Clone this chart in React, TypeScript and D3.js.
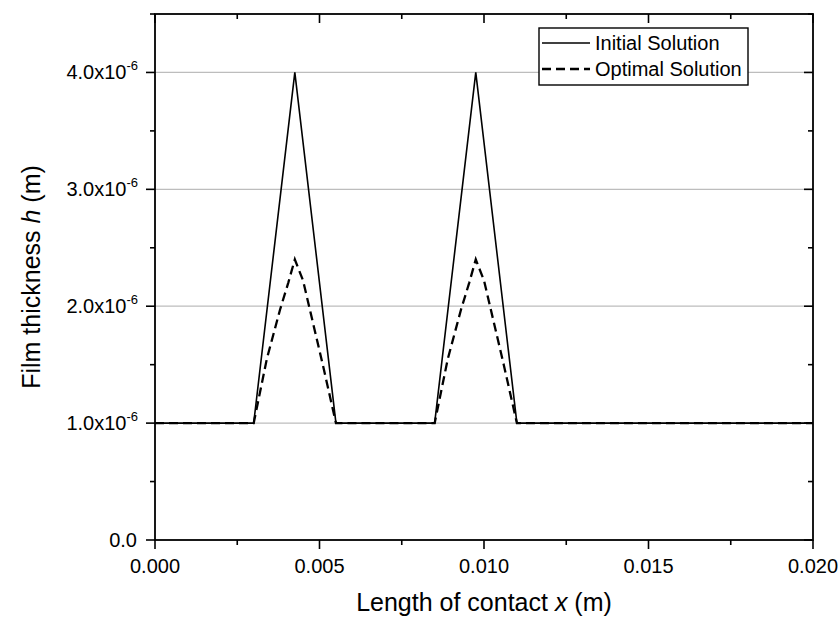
import React from "react";
import * as d3 from "d3";

const xInitial = [0, 0.003, 0.00425, 0.0055, 0.0085, 0.00975, 0.011, 0.02];
const hInitial = [1e-6, 1e-6, 4e-6, 1e-6, 1e-6, 4e-6, 1e-6, 1e-6];

const xOptimal = [0, 0.003, 0.0034, 0.0038, 0.00405, 0.00425, 0.0045, 0.0048, 0.0051, 0.0055, 0.0085, 0.0089, 0.0093, 0.00955, 0.00975, 0.01, 0.0103, 0.0106, 0.011, 0.02];
const hOptimal = [1e-6, 1e-6, 1.55e-6, 1.97e-6, 2.2e-6, 2.4e-6, 2.22e-6, 1.86e-6, 1.5e-6, 1e-6, 1e-6, 1.55e-6, 1.97e-6, 2.2e-6, 2.4e-6, 2.22e-6, 1.86e-6, 1.5e-6, 1e-6, 1e-6];

const xTicks = [0, 0.005, 0.01, 0.015, 0.02];
const xTickLabels = ["0.000", "0.005", "0.010", "0.015", "0.020"];
const xMinor = [0.0025, 0.0075, 0.0125, 0.0175];
const yTicks = [0, 1e-6, 2e-6, 3e-6, 4e-6];
const yTickMant = ["0.0", "1.0", "2.0", "3.0", "4.0"];
const yMinor = [0.5e-6, 1.5e-6, 2.5e-6, 3.5e-6, 4.5e-6];
const gridVals = [1e-6, 2e-6, 3e-6, 4e-6];
const legendLabels = ["Initial Solution", "Optimal Solution"];

const W = 840, H = 619;
const L = 155, R = 813, T = 14, B = 540;
const FONT = "Liberation Sans, Arial, sans-serif";

export default function App() {
  const x = d3.scaleLinear().domain([0, 0.02]).range([L, R]);
  const y = d3.scaleLinear().domain([0, 4.5e-6]).range([B, T]);
  const line = d3.line<[number, number]>().x(d => x(d[0])).y(d => y(d[1]));
  const initPts = xInitial.map((v, i) => [v, hInitial[i]] as [number, number]);
  const optPts = xOptimal.map((v, i) => [v, hOptimal[i]] as [number, number]);
  const MJ = 9, MN = 5;
  return (
    <svg width={W} height={H} style={{ position: "absolute", left: 0, top: 0, background: "#fff" }} fontFamily={FONT}>
      <rect x={0} y={0} width={W} height={H} fill="#fff" />
      {gridVals.map((v, i) => (
        <line key={"g" + i} x1={L} x2={R} y1={y(v)} y2={y(v)} stroke="#bdbdbd" strokeWidth={1.2} />
      ))}
      <path d={line(optPts) || ""} fill="none" stroke="#000" strokeWidth={2.3} strokeDasharray="9,5" />
      <path d={line(initPts) || ""} fill="none" stroke="#000" strokeWidth={1.6} />
      {/* frame */}
      <rect x={L} y={T} width={R - L} height={B - T} fill="none" stroke="#000" strokeWidth={1.8} />
      {/* x ticks */}
      {xTicks.map((v, i) => (
        <g key={"xt" + i}>
          <line x1={x(v)} x2={x(v)} y1={B} y2={B + MJ} stroke="#000" strokeWidth={1.6} />
          <line x1={x(v)} x2={x(v)} y1={T} y2={T + MJ} stroke="#000" strokeWidth={1.6} />
          <text x={x(v)} y={B + 33} textAnchor="middle" fontSize={20} fill="#000">{xTickLabels[i]}</text>
        </g>
      ))}
      {xMinor.map((v, i) => (
        <g key={"xm" + i}>
          <line x1={x(v)} x2={x(v)} y1={B} y2={B + MN} stroke="#000" strokeWidth={1.6} />
          <line x1={x(v)} x2={x(v)} y1={T} y2={T + MN} stroke="#000" strokeWidth={1.6} />
        </g>
      ))}
      {yTicks.map((v, i) => (
        <g key={"yt" + i}>
          <line x1={L - MJ} x2={L} y1={y(v)} y2={y(v)} stroke="#000" strokeWidth={1.6} />
          <line x1={R - MJ} x2={R} y1={y(v)} y2={y(v)} stroke="#000" strokeWidth={1.6} />
          {i === 0 ? (
            <text x={L - 18} y={y(v) + 7} textAnchor="end" fontSize={20} fill="#000">{yTickMant[i]}</text>
          ) : (
            <text x={L - 17} y={y(v) + 7} textAnchor="end" fontSize={20} fill="#000">
              {yTickMant[i] + "x10"}
              <tspan fontSize={13} dy={-9}>-6</tspan>
            </text>
          )}
        </g>
      ))}
      {yMinor.map((v, i) => (
        <g key={"ym" + i}>
          <line x1={L - MN} x2={L} y1={y(v)} y2={y(v)} stroke="#000" strokeWidth={1.6} />
          <line x1={R - MN} x2={R} y1={y(v)} y2={y(v)} stroke="#000" strokeWidth={1.6} />
        </g>
      ))}
      {/* axis titles */}
      <text x={(L + R) / 2} y={611} textAnchor="middle" fontSize={25} fill="#000">
        Length of contact <tspan fontStyle="italic">x</tspan> (m)
      </text>
      <text transform={`translate(40,${(T + B) / 2}) rotate(-90)`} textAnchor="middle" fontSize={25} fill="#000">
        Film thickness <tspan fontStyle="italic">h</tspan> (m)
      </text>
      {/* legend */}
      <rect x={539} y={28} width={209} height={57} fill="#fff" stroke="#000" strokeWidth={1.4} />
      <line x1={542} x2={590} y1={43} y2={43} stroke="#000" strokeWidth={1.6} />
      <text x={595} y={50} fontSize={20} fill="#000">{legendLabels[0]}</text>
      <line x1={542} x2={590} y1={69} y2={69} stroke="#000" strokeWidth={2.3} strokeDasharray="9,5" />
      <text x={595} y={76} fontSize={20} fill="#000">{legendLabels[1]}</text>
    </svg>
  );
}
